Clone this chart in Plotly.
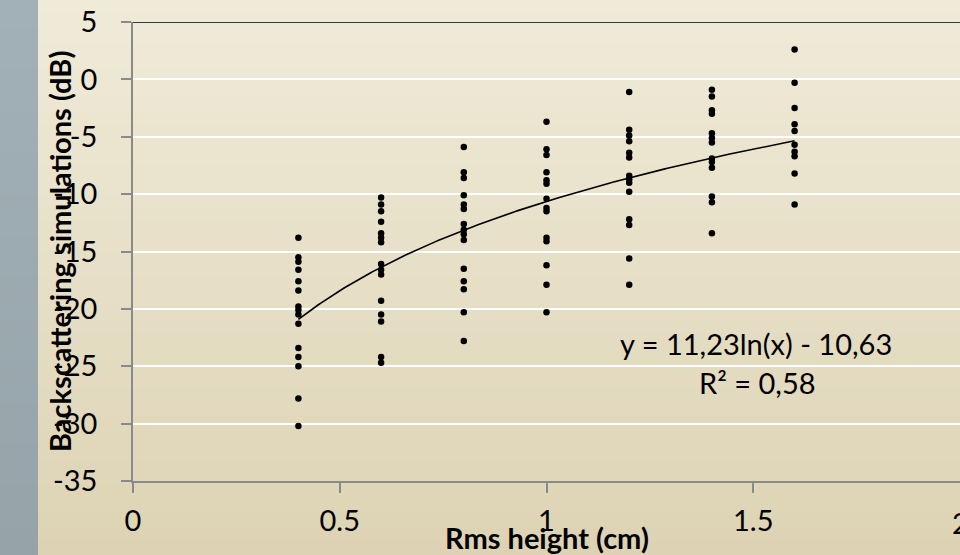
import numpy as np
import plotly.graph_objects as go

# Rms height classes (cm) and simulated backscattering values (dB)
rms_04 = [-13.8, -15.5, -15.9, -16.6, -17.6, -18.4, -19.8, -20.1, -20.5, -21.3,
          -23.4, -24.2, -25.0, -27.8, -30.2]
rms_06 = [-10.3, -10.9, -11.5, -12.4, -13.4, -13.8, -14.2, -16.1, -16.6, -17.0,
          -19.3, -20.5, -21.1, -24.2, -24.7]
rms_08 = [-5.9, -8.1, -8.6, -10.1, -10.9, -11.3, -12.6, -13.1, -13.5, -14.0,
          -16.5, -17.6, -18.3, -20.3, -22.8]
rms_10 = [-3.7, -6.1, -6.6, -8.1, -8.8, -9.1, -10.4, -11.2, -11.5, -13.8,
          -14.1, -16.2, -17.9, -20.3]
rms_12 = [-1.1, -4.4, -4.9, -5.4, -6.4, -6.8, -8.4, -8.7, -9.0, -9.8,
          -12.2, -12.7, -15.6, -17.9]
rms_14 = [-0.9, -1.5, -2.7, -3.0, -4.7, -5.1, -5.5, -6.9, -7.2, -7.7,
          -10.2, -10.7, -13.4]
rms_16 = [2.6, -0.3, -2.5, -3.9, -4.5, -5.7, -6.3, -6.7, -8.2, -10.9]

rms_classes = [0.4, 0.6, 0.8, 1.0, 1.2, 1.4, 1.6]
series = [rms_04, rms_06, rms_08, rms_10, rms_12, rms_14, rms_16]

# Logarithmic trend: y = a ln(x) + b
trend_a = 11.23
trend_b = -10.63
r_squared = 0.58

x_tick_vals = [0, 0.5, 1, 1.5]
x_tick_text = ["0", "0.5", "1", "1.5"]
x_last_tick = "2"
y_tick_vals = [-35, -30, -25, -20, -15, -10, -5, 0, 5]
y_tick_text = ["-35", "-30", "-25", "-20", "-15", "-10", "-5", "0", "5"]

xs = [x for x, vals in zip(rms_classes, series) for _ in vals]
ys = [v for vals in series for v in vals]

trend_x = np.linspace(min(rms_classes), max(rms_classes), 200)
trend_y = trend_a * np.log(trend_x) + trend_b

FONT = "Lato"
TICK_SIZE = 29
W, H = 960, 555
ML, MR, MT, MB = 133, 0, 22, 74
plot_h = H - MT - MB
plot_w = W - ML - MR


def px_to_paper_x(px):
    return (px - ML) / plot_w


def px_to_paper_y(py):
    return (H - MB - py) / plot_h


def lerp(c0, c1, t):
    return tuple(round(a + (b - a) * t) for a, b in zip(c0, c1))


# Background: vertical gradients for the slide and the left strip
shapes = []
n_bands = 40
beige_top, beige_bot = (240, 235, 217), (221, 211, 180)
strip_top, strip_bot = (162, 176, 183), (150, 164, 170)
for i in range(n_bands):
    y0 = H * i / n_bands
    y1 = H * (i + 1) / n_bands + 1
    t = (i + 0.5) / n_bands
    c = lerp(beige_top, beige_bot, t)
    shapes.append(dict(type="rect", xref="paper", yref="paper", layer="below",
                       x0=px_to_paper_x(38), x1=px_to_paper_x(W + 2),
                       y0=px_to_paper_y(y1), y1=px_to_paper_y(y0),
                       fillcolor="rgb(%d,%d,%d)" % c, line=dict(width=0)))
    c2 = lerp(strip_top, strip_bot, t)
    shapes.append(dict(type="rect", xref="paper", yref="paper", layer="below",
                       x0=px_to_paper_x(-2), x1=px_to_paper_x(38),
                       y0=px_to_paper_y(y1), y1=px_to_paper_y(y0),
                       fillcolor="rgb(%d,%d,%d)" % c2, line=dict(width=0)))

# Dark frame line along the top of the plot area
shapes.append(dict(type="line", xref="paper", yref="y", x0=0, x1=1, y0=5, y1=5,
                   line=dict(color="#3a3a3a", width=2)))

fig = go.Figure()
fig.add_trace(go.Scatter(x=xs, y=ys, mode="markers",
                         marker=dict(color="black", size=6.5),
                         hoverinfo="x+y", showlegend=False))
fig.add_trace(go.Scatter(x=trend_x, y=trend_y, mode="lines",
                         line=dict(color="black", width=1.6),
                         hoverinfo="skip", showlegend=False))

eq_text = "y = %sln(x) - %s" % (f"{trend_a:.2f}".replace(".", ","),
                                f"{abs(trend_b):.2f}".replace(".", ","))
r2_text = "R² = %s" % f"{r_squared:.2f}".replace(".", ",")

annotations = [
    dict(text=eq_text, xref="paper", yref="paper",
         x=px_to_paper_x(756), y=px_to_paper_y(343), showarrow=False,
         font=dict(family=FONT, size=29, color="black"),
         xanchor="center", yanchor="middle"),
    dict(text=r2_text, xref="paper", yref="paper",
         x=px_to_paper_x(757), y=px_to_paper_y(382), showarrow=False,
         font=dict(family=FONT, size=29, color="black"),
         xanchor="center", yanchor="middle"),
    dict(text="<b>Rms height (cm)</b>", xref="paper", yref="paper",
         x=px_to_paper_x(547), y=px_to_paper_y(537), showarrow=False,
         font=dict(family=FONT, size=29, color="black"),
         xanchor="center", yanchor="middle"),
    dict(text="<b>Backscattering simulations (dB)</b>", xref="paper", yref="paper",
         x=px_to_paper_x(59), y=px_to_paper_y(252), showarrow=False, textangle=-90,
         font=dict(family=FONT, size=29, color="black"),
         xanchor="center", yanchor="middle"),
    # last x tick label sits on the right edge of the page
    dict(text=x_last_tick, xref="x", yref="paper",
         x=2, y=px_to_paper_y(522), showarrow=False,
         font=dict(family=FONT, size=TICK_SIZE, color="black"),
         xanchor="center", yanchor="middle"),
]

fig.update_layout(
    width=W, height=H,
    margin=dict(l=ML, r=MR, t=MT, b=MB, pad=0),
    paper_bgcolor="rgba(0,0,0,0)",
    plot_bgcolor="rgba(0,0,0,0)",
    shapes=shapes,
    annotations=annotations,
    showlegend=False,
    xaxis=dict(range=[0, 2], tickvals=x_tick_vals, ticktext=x_tick_text,
               showgrid=False, zeroline=False,
               showline=True, linecolor="#8a8a8a", linewidth=1.5,
               ticks="outside", ticklen=10, tickwidth=1.5, tickcolor="#8a8a8a",
               ticklabelstandoff=3,
               tickfont=dict(family=FONT, size=TICK_SIZE, color="black")),
    yaxis=dict(range=[-35, 5], tickvals=y_tick_vals, ticktext=y_tick_text,
               showgrid=True, gridcolor="white", gridwidth=1.5, zeroline=False,
               showline=True, linecolor="#8a8a8a", linewidth=1.5,
               ticks="outside", ticklen=10, tickwidth=1.5, tickcolor="#8a8a8a",
               ticklabelstandoff=18,
               tickfont=dict(family=FONT, size=TICK_SIZE, color="black")),
)

fig.write_html("out.html")
